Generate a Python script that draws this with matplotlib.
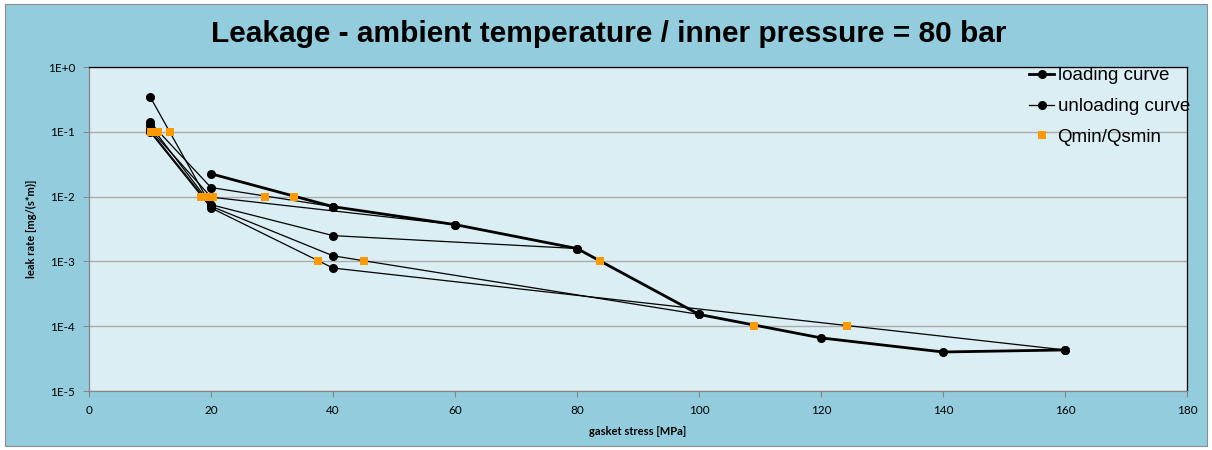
import matplotlib
matplotlib.use("Agg")
import matplotlib.pyplot as plt
from matplotlib.patches import Rectangle
from matplotlib.ticker import FixedLocator, FuncFormatter, NullLocator

# loading curve (thick line)
load_x = [20, 40, 60, 80, 100, 120, 140, 160]
load_y = [2.25e-2, 7.0e-3, 3.7e-3, 1.58e-3, 1.52e-4, 6.6e-5, 4.0e-5, 4.3e-5]

# unloading curves (thin lines), one per start stress
unl_20_x = [20, 10]
unl_20_y = [7.2e-3, 0.35]
unl_40_x = [40, 20, 10]
unl_40_y = [7.0e-3, 1.38e-2, 0.14]
unl_60_x = [60, 20, 10]
unl_60_y = [3.7e-3, 9.8e-3, 0.11]
unl_80_x = [80, 40, 20, 10]
unl_80_y = [1.58e-3, 2.5e-3, 7.5e-3, 0.128]
unl_100_x = [100, 40, 20, 10]
unl_100_y = [1.52e-4, 1.22e-3, 7.1e-3, 0.105]
unl_160_x = [160, 40, 20, 10]
unl_160_y = [4.3e-5, 7.9e-4, 6.7e-3, 0.1]

# Qmin/Qsmin markers
q_x = [10.1, 10.6, 11.3, 13.2, 18.4, 19.3, 20.4, 28.9, 33.6, 37.6, 45.0, 83.7, 109.0, 124.3]
q_y = [1e-1] * 4 + [1e-2] * 5 + [1e-3] * 3 + [1e-4] * 2

y_ticks = [1e-5, 1e-4, 1e-3, 1e-2, 1e-1, 1e0]
y_tick_labels = ["1E-5", "1E-4", "1E-3", "1E-2", "1E-1", "1E+0"]
x_ticks = [0, 20, 40, 60, 80, 100, 120, 140, 160, 180]

W, H = 1212, 450
fig = plt.figure(figsize=(W / 100, H / 100), dpi=100, facecolor="white")

# chart area background with border
fig.patches.append(Rectangle((5 / W, 4 / H), 1202 / W, 442 / H, transform=fig.transFigure,
                             facecolor="#93CDDD", edgecolor="#8C8C8C", linewidth=0.8, zorder=-10))

ax = fig.add_axes([89 / W, 1 - 391 / H, 1098 / W, 324 / H])
ax.set_facecolor("#DAEEF3")
ax.set_yscale("log")
ax.set_xlim(0, 180)
ax.set_ylim(1e-5, 1)

# gridlines
ax.yaxis.grid(True, color="#ABABAB", linewidth=1.0)
ax.set_axisbelow(True)

thin = dict(color="black", linewidth=0.9, marker="o", markersize=5.5, zorder=3)
unloading = [(unl_20_x, unl_20_y), (unl_40_x, unl_40_y), (unl_60_x, unl_60_y),
             (unl_80_x, unl_80_y), (unl_100_x, unl_100_y), (unl_160_x, unl_160_y)]
for i, (ux, uy) in enumerate(unloading):
    ax.plot(ux, uy, label="unloading curve" if i == 0 else None, **thin)

ax.plot(load_x, load_y, color="black", linewidth=2.0, marker="o", markersize=5.5,
        label="loading curve", zorder=4)
ax.plot(q_x, q_y, linestyle="none", marker="s", markersize=6, color="#FF9900",
        markeredgewidth=0, label="Qmin/Qsmin", zorder=5)

# axes styling
ax.yaxis.set_major_locator(FixedLocator(y_ticks))
ax.yaxis.set_minor_locator(NullLocator())
ax.yaxis.set_major_formatter(FuncFormatter(lambda v, p: y_tick_labels[y_ticks.index(v)] if v in y_ticks else ""))
ax.set_xticks(x_ticks)
for s in ["left", "bottom"]:
    ax.spines[s].set_color("#868686")
    ax.spines[s].set_linewidth(0.9)
for s in ["top", "right"]:
    ax.spines[s].set_color("black")
    ax.spines[s].set_linewidth(0.9)
ax.tick_params(axis="both", direction="out", length=4, width=0.8, color="#868686",
               labelsize=8.5, labelcolor="black")
for lab in ax.get_xticklabels() + ax.get_yticklabels():
    lab.set_family("Lato")
ax.tick_params(axis="x", pad=6)
ax.tick_params(axis="y", pad=6)

ax.set_xlabel("gasket stress [MPa]", fontsize=8, fontweight="bold", family="Lato", labelpad=7)
ax.set_ylabel("leak rate [mg/(s*m)]", fontsize=8, fontweight="bold", family="Lato", labelpad=8)

# legend (order: loading, unloading, Qmin)
handles, labels = ax.get_legend_handles_labels()
order = [labels.index("loading curve"), labels.index("unloading curve"), labels.index("Qmin/Qsmin")]
leg = ax.legend([handles[i] for i in order], [labels[i] for i in order],
                loc="upper left", bbox_to_anchor=(1020 / W, 1 - 58 / H),
                bbox_transform=fig.transFigure, frameon=False,
                prop={"family": "Liberation Sans", "size": 13.5},
                handlelength=1.3, handletextpad=0.2, labelspacing=0.72, borderpad=0)

fig.text(0.502, 1 - 34 / H, "Leakage - ambient temperature / inner pressure = 80 bar",
         ha="center", va="center", fontsize=21.5, fontweight="bold", family="Liberation Sans")

fig.savefig("out.png", dpi=100, facecolor=fig.get_facecolor())
